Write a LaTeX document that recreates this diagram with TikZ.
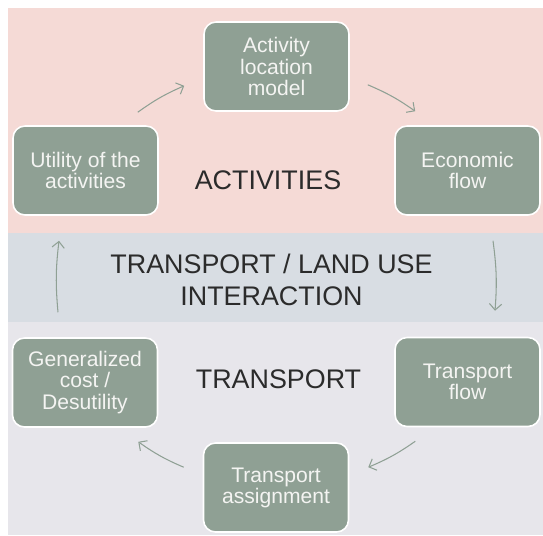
\documentclass[tikz,border=0pt]{standalone}
\usepackage{fontspec}
\setmainfont{Liberation Sans}
\usetikzlibrary{arrows.meta}
\definecolor{actband}{HTML}{F5DAD6}
\definecolor{midband}{HTML}{D8DDE3}
\definecolor{trpband}{HTML}{E7E6EB}
\definecolor{boxfill}{HTML}{8FA094}
\definecolor{boxtext}{HTML}{F4F4F2}
\definecolor{bandtext}{HTML}{2B2B2B}
\begin{document}
\begin{tikzpicture}[x=0.02cm,y=-0.02cm,
		stagebox/.style={draw=white,line width=0.9pt,rounded corners=0.24cm,fill=boxfill,text=boxtext,
			minimum width=2.9cm,minimum height=1.78cm,align=center,inner sep=2pt,
			font=\fontsize{12pt}{12pt}\selectfont},
		bandlabel/.style={text=bandtext,align=center,font=\fontsize{15.3pt}{18pt}\selectfont},
		flow/.style={->,draw=boxfill,line width=0.6pt,bend left=6},
		>={Straight Barb[length=3.5pt,width=7pt]}]
			\useasboundingbox (0,0) rectangle (543,535);
			% the three bands
			\fill[actband] (8,8) rectangle (543,233);
			\fill[midband] (8,233) rectangle (543,322);
			\fill[trpband] (8,322) rectangle (543,535);
			
			\node[bandlabel] (activities) at (268,180) {ACTIVITIES};
			\node[bandlabel] (interaction) at (271.5,280) {TRANSPORT / LAND USE\\INTERACTION};
			\node[bandlabel] (transport) at (278.5,379) {TRANSPORT};
			
			\node[stagebox] (utility) at (85.5,170.5) {Utility of the\\activities};
			\node[stagebox] (location) at (276.5,66.5) {Activity\\location\\model};
			\node[stagebox] (economic) at (467.5,170.5) {Economic\\flow};
			\node[stagebox] (tflow) at (467.5,382) {Transport\\flow};
			\node[stagebox] (assign) at (276,487.5) {Transport\\assignment};
			\node[stagebox] (gencost) at (85,382.5) {Generalized\\cost /\\Desutility};
			
			\draw[flow] ([shift={(-21,-13)}]utility.north east) to ([shift={(-19,-26)}]location.south west);
			\draw[flow] ([shift={(18,-27)}]location.south east) to ([shift={(21,-14)}]economic.north west);
			\draw[flow] ([shift={(25.5,25)}]economic.south) to ([shift={(27.5,-26)}]tflow.north);
			\draw[flow] ([shift={(21,14)}]tflow.south west) to ([shift={(19,25)}]assign.north east);
			\draw[flow] ([shift={(-19,25)}]assign.north west) to ([shift={(-20,14)}]gencost.south east);
			\draw[flow] ([shift={(-27,-25)}]gencost.north) to ([shift={(-26.5,25)}]utility.south);
		\end{tikzpicture}
\end{document}
